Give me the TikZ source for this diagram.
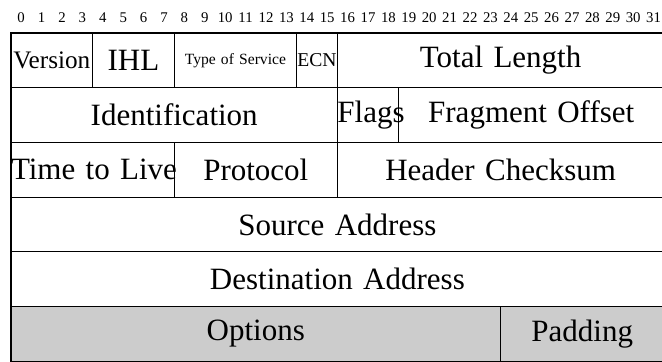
\documentclass[tikz,border=0pt]{standalone}
\usepackage{fontspec}
\setmainfont{Liberation Serif}
\usetikzlibrary{positioning}
\definecolor{optgray}{HTML}{CCCCCC}

\begin{document}
\begin{tikzpicture}[
        field/.style={
            draw,
            rectangle,
            line width=0.6pt,
            minimum width=#1*10.2pt,
            text width=#1*10.2pt,
            minimum height=27.35pt,
            inner sep=0pt,
            outer sep=0pt,
            align=center,
            font=\fontsize{15.5}{18}\selectfont
        },
        optfield/.style={field=#1, fill=optgray},
        bitnum/.style={font=\fontsize{7.4}{8}\selectfont, inner sep=0pt}
    ]

    \useasboundingbox (0,0) rectangle (331pt,-180.5pt);

    % Bit numbers
    \foreach \i in {0,...,31} {
        \node[bitnum] (bit\i) at ({5.5pt+(\i+0.5)*10.2pt},-9pt) {\i};
    }

    % Row 1
    \node[field=4, anchor=north west, font=\fontsize{12.6}{14}\selectfont] (version) at (5.5pt,-16.5pt) {Version};
    \node[field=4] (ihl) [right=0pt of version] {IHL};
    \node[field=6, font=\fontsize{7.8}{9}\selectfont] (tos) [right=0pt of ihl] {Type of Service};
    \node[field=2, font=\fontsize{9.8}{11}\selectfont] (ecn) [right=0pt of tos] {ECN};
    \node[field=16] (totlen) [right=0pt of ecn] {Total Length};

    % Row 2
    \node[field=16, anchor=north west] (ident) at (version.south west) {Identification};
    \node[field=3] (flags) [right=0pt of ident] {Flags};
    \node[field=13] (fragoff) [right=0pt of flags] {Fragment Offset};

    % Row 3
    \node[field=8, anchor=north west] (ttl) at (ident.south west) {\mbox{Time to Live}};
    \node[field=8] (proto) [right=0pt of ttl] {Protocol};
    \node[field=16] (checksum) [right=0pt of proto] {Header Checksum};

    % Row 4
    \node[field=32, anchor=north west] (srcaddr) at (ttl.south west) {Source Address};

    % Row 5
    \node[field=32, anchor=north west] (dstaddr) at (srcaddr.south west) {Destination Address};

    % Row 6
    \node[optfield=24, anchor=north west] (options) at (dstaddr.south west) {Options};
    \node[optfield=8] (padding) [right=0pt of options] {Padding};

\end{tikzpicture}
\end{document}
